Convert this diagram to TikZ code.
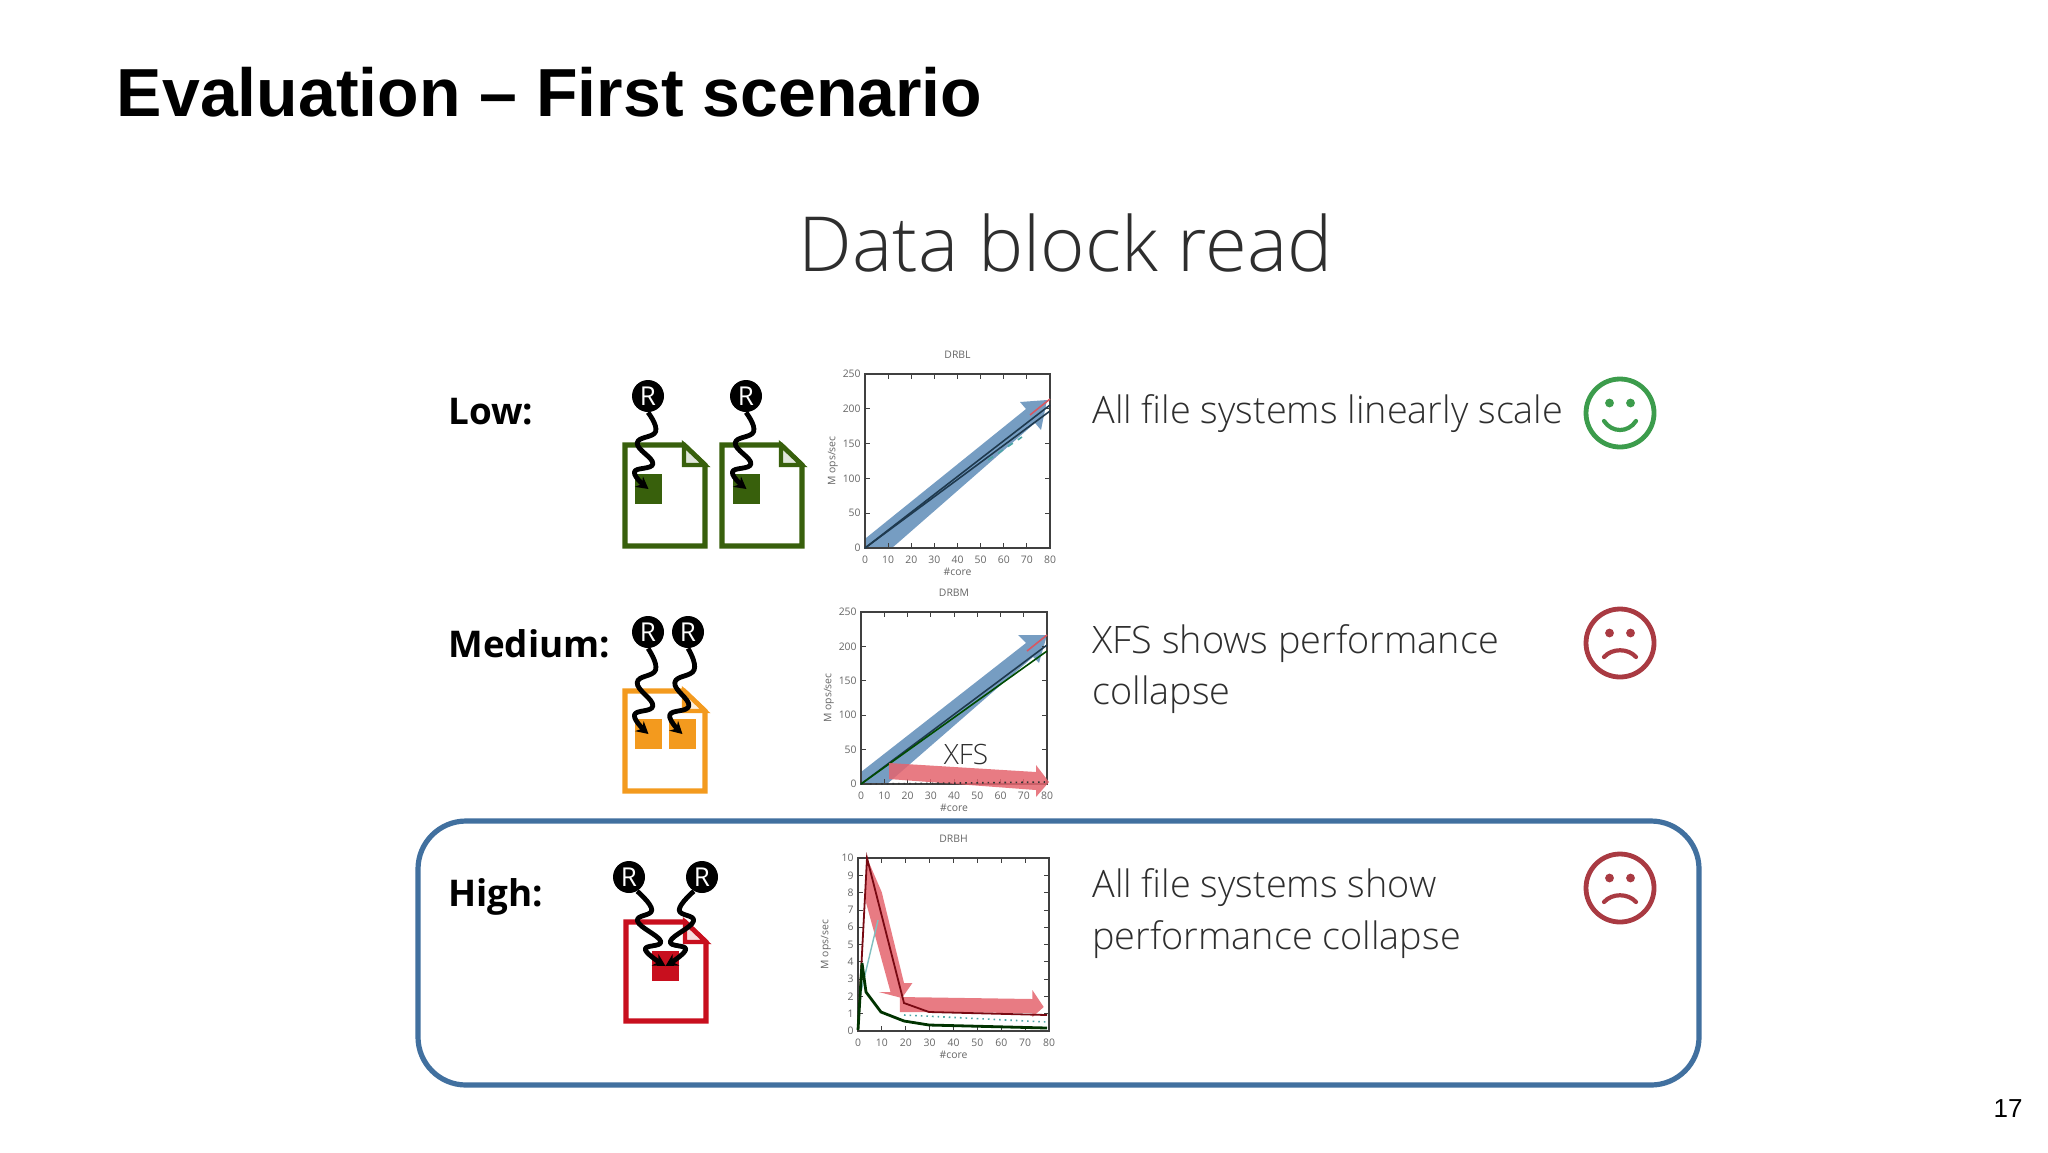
\documentclass[tikz,border=0pt]{standalone}
\usepackage{fontspec}
\setmainfont{Open Sans}[UprightFont=* Light,BoldFont=*]
\newfontfamily\openreg{Open Sans}
\newfontfamily\arialf{Liberation Sans}
\usetikzlibrary{shapes.geometric,arrows.meta,calc}
\definecolor{lowgreen}{HTML}{38600C}
\definecolor{medorange}{HTML}{F39A1E}
\definecolor{highred}{HTML}{C80F1E}
\definecolor{boxblue}{HTML}{41709F}
\definecolor{smilegreen}{HTML}{3C9C4C}
\definecolor{sadred}{HTML}{A93A42}
\definecolor{txtgray}{HTML}{2E2E2E}
\definecolor{tickgray}{HTML}{666666}
\definecolor{bandblue}{HTML}{5F8DB8}
\definecolor{bandred}{HTML}{E4646E}
\definecolor{lineblue}{HTML}{1F3A4F}
\tikzset{
  rnode/.style={ellipse,fill=black,text=white,minimum width=16pt,minimum height=16pt,inner sep=0pt,font=\openreg\fontsize{13}{13}\selectfont},
  blocknode/.style={minimum width=13.5pt,minimum height=15pt,inner sep=0pt,draw=none},
  squigline/.style={line width=2.4pt,black,-{Stealth[length=6pt,width=6.5pt]},line join=round},
  lvl/.style={anchor=base west,inner sep=0pt,font=\openreg\fontsize{18.4}{18.4}\selectfont\bfseries,text=black},
  desc/.style={anchor=west,inner sep=0pt,font=\fontsize{18.9}{18.9}\selectfont,text=txtgray},
  ticklab/.style={font=\openreg\fontsize{5.2}{5.2}\selectfont,text=tickgray,inner sep=0pt},
  face/.style={circle,draw=#1,line width=2.4pt,minimum size=34pt,inner sep=0pt},
  mouth/.style={line width=2.1pt,line cap=round},
  bandb/.style={fill=bandblue,fill opacity=.85,draw=none},
  bandr/.style={fill=bandred,fill opacity=.85,draw=none},
}
\newcommand{\docshape}[5]{%
  \pgfmathsetmacro{\fx}{#3-21}\pgfmathsetmacro{\fy}{#2+20}%
  \draw[#5,line width=2.6pt,line join=miter] (#1,#2)--(\fx,#2)--(#3,\fy)--(#3,#4)--(#1,#4)--cycle;
  \filldraw[draw=#5,fill=#5!15,line width=2.2pt,line join=miter] (\fx,#2)--(\fx,\fy)--(#3,\fy)--cycle;
}
\newcommand{\squig}[3]{%
  \coordinate (qa) at ($(#1)!.25!(#2)+(#3*7.5,0)$);
  \coordinate (qb) at ($(#1)!.40!(#2)+(#3*-11,0)$);
  \coordinate (qc) at ($(#1)!.67!(#2)+(#3*4.5,0)$);
  \coordinate (qd) at ($(#1)!.78!(#2)+(#3*-14,0)$);
  \draw[squigline] plot[smooth,tension=.75] coordinates {(#1) (qa) (qb) (qc) (qd) (#2)};
}
\newcommand{\chart}[7]{%
  \draw[black!75,line width=.6pt] (#1,#2) rectangle (#3,#4);
  \foreach \i in {0,10,...,80}{
    \pgfmathsetmacro{\tx}{#1+(#3-#1)*\i/80}
    \draw[black!75,line width=.4pt] (\tx,#4)--(\tx,#4-5) (\tx,#2)--(\tx,#2+5);
    \node[ticklab] at (\tx,#4+12) {\i};
  }
  \foreach \i in {0,...,#7}{
    \pgfmathsetmacro{\ty}{#4+(#2-#4)*\i/#7}
    \pgfmathtruncatemacro{\tv}{\i*#6/#7}
    \draw[black!75,line width=.4pt] (#1,\ty)--(#1+5,\ty) (#3,\ty)--(#3-5,\ty);
    \node[ticklab,anchor=east] at (#1-4,\ty) {\tv};
  }
  \node[ticklab] at ($(#1,#2)!.5!(#3,#2)+(0,-19)$) {#5};
  \node[ticklab] at ($(#1,#4)!.5!(#3,#4)+(0,24)$) {\#core};
  \node[ticklab,rotate=90] at ($(#1,#2)!.5!(#1,#4)+(-32,0)$) {M ops/sec};
}
\begin{document}
\begin{tikzpicture}[x=.5pt,y=-.5pt]
\useasboundingbox (0,0) rectangle (2048,1152);
\fill[white] (0,0) rectangle (2048,1152);

\node[anchor=base west,inner sep=0pt,font=\arialf\bfseries\fontsize{34}{34}\selectfont] (title) at (116.5,116.5) {Evaluation – First scenario};
\node[inner sep=0pt,font=\fontsize{38}{38}\selectfont,text=txtgray] (sub) at (1066,243) {Data block read};
\node[inner sep=0pt,font=\arialf\fontsize{13}{13}\selectfont] (pageno) at (2008,1109) {17};

\draw[boxblue,line width=2.6pt,rounded corners=24pt] (418,821) rectangle (1699,1085);

\node[lvl] (low) at (448,424.5) {Low:};
\node[lvl] (medium) at (448,657.5) {Medium:};
\node[lvl] (high) at (448,906.5) {High:};

% Low
\docshape{625}{445}{705}{546}{lowgreen}
\docshape{722}{445}{802}{546}{lowgreen}
\node[rnode] (r1) at (648,396) {R};
\node[rnode] (r2) at (746,396) {R};
\node[blocknode,fill=lowgreen] (b1) at (648.5,489) {};
\node[blocknode,fill=lowgreen] (b2) at (746.5,489) {};
\squig{r1.south}{b1}{1}
\squig{r2.south}{b2}{1}

% Medium
\docshape{625}{691}{705}{791}{medorange}
\node[rnode] (r3) at (648,632) {R};
\node[rnode] (r4) at (688,632) {R};
\node[blocknode,fill=medorange] (b3) at (648.5,734) {};
\node[blocknode,fill=medorange] (b4) at (682.5,734) {};
\squig{r3.south}{b3}{1}
\squig{r4.south}{b4}{1}

% High
\docshape{626}{922}{706}{1021}{highred}
\node[rnode] (r5) at (629,877) {R};
\node[rnode] (r6) at (702,877) {R};
\node[blocknode,fill=highred] (b5) at (665.5,966) {};
\squig{r5.-60}{b5}{1}
\squig{r6.-120}{b5}{-1}

% Chart low
\fill[bandb] (866,538)--(1026,409)--(1020,402)--(1047,400)--(1041,430)--(1035,423)--(892,548)--(866,548)--cycle;
\chart{865}{374}{1050}{548}{DRBL}{250}{5}
\draw[highred!70,line width=.8pt] (1030,415)--(1050,399);
\draw[lineblue,line width=.8pt] (865,548)--(1050,405);
\draw[lineblue,line width=.8pt] (865,548)--(1050,411);
\draw[teal!70,line width=.8pt,dashed] (988,460)--(1022,437);

% Chart medium
\fill[bandb] (861,772)--(1026,643)--(1018,635)--(1047,635)--(1039,663)--(1033,657)--(887,784)--(861,784)--cycle;
\chart{861}{612}{1047}{784}{DRBM}{250}{5}
\draw[highred!70,line width=.8pt] (1027,651)--(1047,635);
\draw[lineblue,line width=.8pt] (861,784)--(1047,645);
\draw[black!70!green,line width=.8pt] (861,784)--(1047,651);
\fill[bandr] (889,763)--(1036,772)--(1036,765)--(1049,782)--(1036,797)--(1036,790)--(889,779)--cycle;
\draw[black!80,line width=.8pt,dotted] (870,784)--(1047,782);
\node[inner sep=0pt,font=\fontsize{14}{14}\selectfont,text=txtgray] (xfs) at (966,754) {XFS};

% Chart high
\fill[bandr] (867,858)--(881.7,892)--(904,983)--(912.4,983)--(901.9,998)--(878.8,992)--(890.5,992)--(865.3,900)--cycle;
\fill[bandr] (899.8,997)--(1032.4,999)--(1032.4,990)--(1043.7,1007)--(1032.4,1017)--(1032.4,1013)--(899.8,1012)--cycle;
\chart{858}{858}{1049}{1031}{DRBH}{10}{10}
\draw[teal!50,line width=.7pt] (859,1000)--(878,920);
\draw[teal!70,line width=.8pt,dotted] (904,1015)--(1047,1022);
\draw[highred!60!black,line width=.9pt] (858,1030)--(867,858)--(904,1003)--(929,1012)--(1047,1015);
\draw[black!80!green,line width=1.4pt] (858,1030)--(862,963)--(866,992)--(881,1012)--(904,1021)--(929,1025)--(1047,1028);

% Descriptions
\node[desc] (d1) at (1092,414) {All file systems linearly scale};
\node[desc] (d2) at (1092,644) {XFS shows performance};
\node[desc] (d3) at (1092,695) {collapse};
\node[desc] (d4) at (1092,888) {All file systems show};
\node[desc] (d5) at (1092,940) {performance collapse};

% Faces
\node[face=smilegreen] (f1) at (1620,413) {};
\fill[smilegreen] ($(f1)+(-10.5,-10)$) circle (2.2pt) ($(f1)+(10.5,-10)$) circle (2.2pt);
\draw[mouth,smilegreen] ($(f1)+(-16,8)$) .. controls ($(f1)+(-8,20)$) and ($(f1)+(8,20)$) .. ($(f1)+(16,8)$);
\node[face=sadred] (f2) at (1620,643) {};
\fill[sadred] ($(f2)+(-10.5,-10)$) circle (2.2pt) ($(f2)+(10.5,-10)$) circle (2.2pt);
\draw[mouth,sadred] ($(f2)+(-16,14)$) .. controls ($(f2)+(-8,5)$) and ($(f2)+(8,5)$) .. ($(f2)+(16,14)$);
\node[face=sadred] (f3) at (1620,888) {};
\fill[sadred] ($(f3)+(-10.5,-10)$) circle (2.2pt) ($(f3)+(10.5,-10)$) circle (2.2pt);
\draw[mouth,sadred] ($(f3)+(-16,14)$) .. controls ($(f3)+(-8,5)$) and ($(f3)+(8,5)$) .. ($(f3)+(16,14)$);
\end{tikzpicture}
\end{document}
